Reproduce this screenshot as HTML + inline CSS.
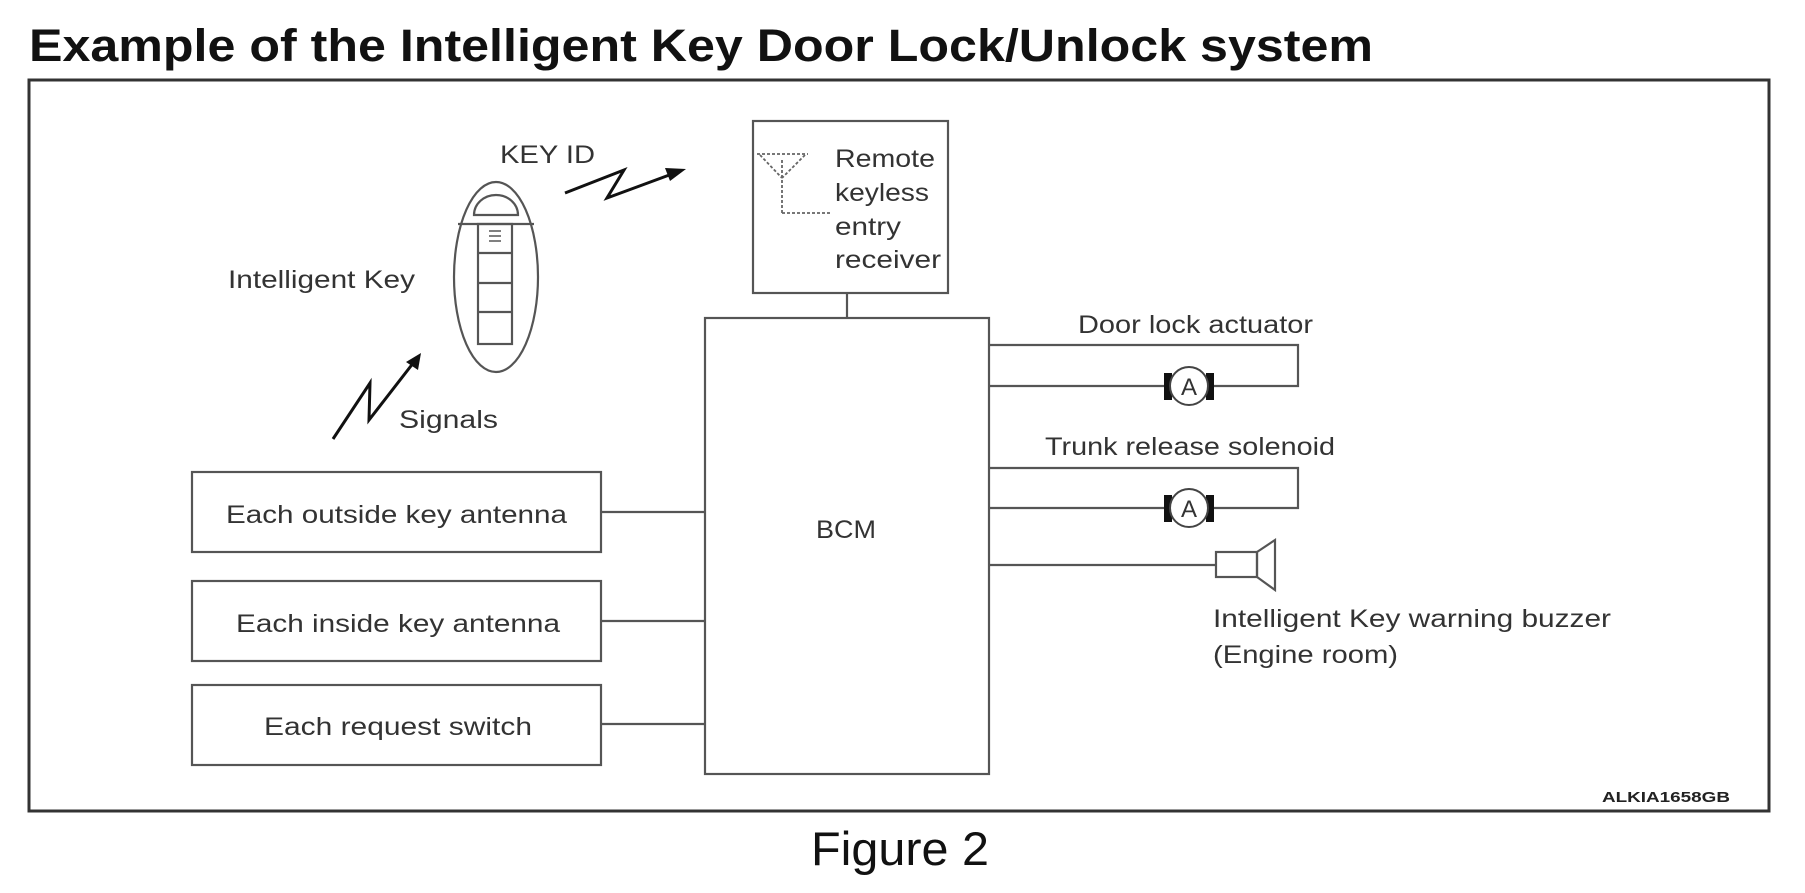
<!DOCTYPE html>
<html><head><meta charset="utf-8"><style>
html,body{margin:0;padding:0;background:#fff;}
svg{display:block;}
text{font-family:"Liberation Sans",Arial,sans-serif;}
</style></head><body>
<svg width="1805" height="893" viewBox="0 0 1805 893" xmlns="http://www.w3.org/2000/svg">
<rect width="1805" height="893" fill="#fff"/>
<text x="29" y="61" font-size="45" font-weight="bold" fill="#111" textLength="1344" lengthAdjust="spacingAndGlyphs">Example of the Intelligent Key Door Lock/Unlock system</text>
<rect x="29" y="80" width="1740" height="731" fill="none" stroke="#333" stroke-width="3"/>
<g stroke="#555" stroke-width="2.2" fill="none">
<rect x="753" y="121" width="195" height="172"/>
<line x1="847" y1="293" x2="847" y2="318"/>
<rect x="705" y="318" width="284" height="456"/>
<rect x="192" y="472" width="409" height="80"/>
<rect x="192" y="581" width="409" height="80"/>
<rect x="192" y="685" width="409" height="80"/>
<line x1="601" y1="512" x2="705" y2="512"/>
<line x1="601" y1="621" x2="705" y2="621"/>
<line x1="601" y1="724" x2="705" y2="724"/>
<polyline points="989,345 1298,345 1298,386 1210,386"/>
<line x1="989" y1="386" x2="1166" y2="386"/>
<polyline points="989,468 1298,468 1298,508 1210,508"/>
<line x1="989" y1="508" x2="1166" y2="508"/>
<line x1="989" y1="565" x2="1216" y2="565"/>
<rect x="1216" y="552" width="41" height="25"/>
<polygon points="1257,552 1275,540 1275,590 1257,577"/>
<ellipse cx="496" cy="277" rx="42" ry="95"/>
<line x1="458" y1="224" x2="534" y2="224"/>
<path d="M474,215 A22,20 0 0 1 518,215 Z"/>
<rect x="478" y="224" width="34" height="120"/>
<line x1="478" y1="253" x2="512" y2="253"/>
<line x1="478" y1="283" x2="512" y2="283"/>
<line x1="478" y1="312" x2="512" y2="312"/>
</g>
<g stroke="#555" stroke-width="1.5">
<line x1="489" y1="231" x2="501" y2="231"/>
<line x1="489" y1="236" x2="501" y2="236"/>
<line x1="489" y1="241" x2="501" y2="241"/>
</g>
<g>
<rect x="1164" y="373" width="8" height="27" fill="#111"/>
<rect x="1206" y="373" width="8" height="27" fill="#111"/>
<circle cx="1189" cy="386" r="19" fill="#fff" stroke="#444" stroke-width="2"/>
<text x="1189" y="395" font-size="24" text-anchor="middle" fill="#333">A</text>
<rect x="1164" y="495" width="8" height="27" fill="#111"/>
<rect x="1206" y="495" width="8" height="27" fill="#111"/>
<circle cx="1189" cy="508" r="19" fill="#fff" stroke="#444" stroke-width="2"/>
<text x="1189" y="517" font-size="24" text-anchor="middle" fill="#333">A</text>
</g>
<g stroke="#666" stroke-width="1.8" fill="none" stroke-dasharray="3,2">
<line x1="757" y1="154" x2="808" y2="154"/>
<line x1="760" y1="155" x2="782" y2="178"/>
<line x1="805" y1="155" x2="782" y2="178"/>
<line x1="782" y1="160" x2="782" y2="213"/>
<line x1="782" y1="213" x2="830" y2="213"/>
</g>
<g stroke="#111" stroke-width="3" fill="none" stroke-linejoin="miter">
<polyline points="565,193 624,170 607,198 672,174"/>
<polyline points="333,439 370,383 369,420 414,362"/>
</g>
<polygon points="686,169 665,168 670,181" fill="#111"/>
<polygon points="421,353 406,362 418,370" fill="#111"/>
<g fill="#333" font-size="25">
<text x="500" y="163" textLength="95" lengthAdjust="spacingAndGlyphs">KEY ID</text>
<text x="835" y="167" textLength="100" lengthAdjust="spacingAndGlyphs">Remote</text>
<text x="835" y="201" textLength="94" lengthAdjust="spacingAndGlyphs">keyless</text>
<text x="835" y="235" textLength="66" lengthAdjust="spacingAndGlyphs">entry</text>
<text x="835" y="268" textLength="106" lengthAdjust="spacingAndGlyphs">receiver</text>
<text x="228" y="288" textLength="187" lengthAdjust="spacingAndGlyphs">Intelligent Key</text>
<text x="399" y="428" textLength="99" lengthAdjust="spacingAndGlyphs">Signals</text>
<text x="226" y="523" textLength="341" lengthAdjust="spacingAndGlyphs">Each outside key antenna</text>
<text x="236" y="632" textLength="324" lengthAdjust="spacingAndGlyphs">Each inside key antenna</text>
<text x="264" y="735" textLength="268" lengthAdjust="spacingAndGlyphs">Each request switch</text>
<text x="816" y="538" textLength="60" lengthAdjust="spacingAndGlyphs">BCM</text>
<text x="1078" y="333" textLength="235" lengthAdjust="spacingAndGlyphs">Door lock actuator</text>
<text x="1045" y="455" textLength="290" lengthAdjust="spacingAndGlyphs">Trunk release solenoid</text>
<text x="1213" y="627" textLength="398" lengthAdjust="spacingAndGlyphs">Intelligent Key warning buzzer</text>
<text x="1213" y="663" textLength="185" lengthAdjust="spacingAndGlyphs">(Engine room)</text>
</g>
<text x="1602" y="802" font-size="15" font-weight="bold" fill="#222" textLength="128" lengthAdjust="spacingAndGlyphs">ALKIA1658GB</text>
<text x="811" y="865" font-size="47" fill="#111" textLength="178" lengthAdjust="spacingAndGlyphs">Figure 2</text>
</svg>
</body></html>
